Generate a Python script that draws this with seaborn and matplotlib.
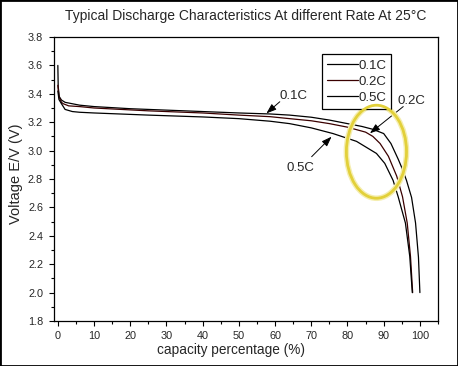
import numpy as np
import pandas as pd
import matplotlib
matplotlib.use("Agg")
import matplotlib.pyplot as plt
import seaborn as sns
from matplotlib.patches import Ellipse, Rectangle
from matplotlib.ticker import MultipleLocator

# ---- data ----
cap_01 = [0, 0.1, 0.4, 1, 2, 4, 6, 10, 20, 30, 40, 50, 58.6, 64, 70, 75, 80, 84, 87, 90, 92, 94, 95, 96.3, 97.7, 98.8, 99.6, 100]
v_01 = [3.60, 3.45, 3.38, 3.356, 3.34, 3.33, 3.32, 3.31, 3.295, 3.285, 3.275, 3.265, 3.258, 3.25, 3.235, 3.215, 3.19, 3.17, 3.15, 3.12, 3.05, 2.94, 2.88, 2.79, 2.67, 2.49, 2.25, 2.0]

cap_02 = [0, 0.3, 1, 1.5, 3, 6, 10, 25, 40, 50, 58.6, 64, 70, 75, 80, 85, 87, 89, 91.3, 93.6, 95.2, 96.5, 97.4, 98]
v_02 = [3.46, 3.38, 3.34, 3.33, 3.315, 3.31, 3.30, 3.28, 3.265, 3.25, 3.239, 3.225, 3.21, 3.19, 3.165, 3.13, 3.10, 3.05, 2.96, 2.82, 2.675, 2.49, 2.255, 2.0]

cap_05 = [0, 0.3, 1, 2, 4, 6, 10, 25, 40, 50, 58.6, 64, 70, 76, 82.5, 88, 90.3, 92.6, 94, 96.0, 97.2, 97.9]
v_05 = [3.42, 3.36, 3.33, 3.29, 3.275, 3.27, 3.265, 3.25, 3.237, 3.225, 3.207, 3.19, 3.16, 3.12, 3.065, 2.98, 2.91, 2.79, 2.675, 2.49, 2.255, 2.0]

series_names = ["0.1C", "0.2C", "0.5C"]
series_colors = ["#000000", "#3a0000", "#000000"]
x_ticks = list(range(0, 101, 10))
y_ticks = [1.8, 2.0, 2.2, 2.4, 2.6, 2.8, 3.0, 3.2, 3.4, 3.6, 3.8]

df = pd.concat([
    pd.DataFrame({"cap": cap_01, "v": v_01, "rate": "0.1C"}),
    pd.DataFrame({"cap": cap_02, "v": v_02, "rate": "0.2C"}),
    pd.DataFrame({"cap": cap_05, "v": v_05, "rate": "0.5C"}),
], ignore_index=True)

sns.set_theme(style="white")
plt.rcParams["font.family"] = ["Liberation Sans", "DejaVu Sans"]

fig = plt.figure(figsize=(4.58, 3.66), dpi=100)
ax = fig.add_axes([53.5 / 458, 1 - 321 / 366, (438 - 53.5) / 458, (321 - 37) / 366])

sns.lineplot(data=df, x="cap", y="v", hue="rate", hue_order=series_names,
             palette=dict(zip(series_names, series_colors)), sort=False,
             estimator=None, linewidth=0.9, ax=ax)

ax.set_xlim(-1.2, 105)
ax.set_ylim(1.8, 3.8)
ax.set_xticks(x_ticks)
ax.set_yticks(y_ticks)
ax.set_yticklabels([f"{t:.1f}" for t in y_ticks])
ax.xaxis.set_minor_locator(MultipleLocator(5))
ax.yaxis.set_minor_locator(MultipleLocator(0.1))
ax.tick_params(which="major", direction="out", length=3.5, width=0.8, color="black",
               labelsize=7.8, pad=4, bottom=True, left=True, top=False, right=False)
ax.tick_params(which="minor", direction="out", length=2.5, width=0.8, color="black",
               bottom=True, left=True, top=False, right=False)
for s in ax.spines.values():
    s.set_color("black")
    s.set_linewidth(0.9)

ax.set_xlabel("capacity percentage (%)", fontsize=9.8)
ax.xaxis.set_label_coords((231 - 53.5) / 384.5, -(350 - 321) / 284, transform=ax.transAxes)
ax.set_ylabel("Voltage E/V (V)", fontsize=10.5)
ax.yaxis.set_label_coords(-(53.5 - 16) / 384.5, 1 - (174 - 37) / 284, transform=ax.transAxes)
ax.xaxis.label.set_va("center")
ax.yaxis.label.set_va("center")
ax.set_title("Typical Discharge Characteristics At different Rate At 25°C", fontsize=10, pad=12)

leg = ax.legend(loc="upper left", bbox_to_anchor=(0.698, 0.940), fontsize=9.5,
                frameon=True, fancybox=False, edgecolor="black", framealpha=1,
                handlelength=2.3, handletextpad=0.05, borderpad=0.4, labelspacing=0.3,
                borderaxespad=0)
leg.get_frame().set_linewidth(0.9)
for line in leg.get_lines():
    line.set_linewidth(0.9)

arrow = dict(arrowstyle="-|>,head_length=0.5,head_width=0.18", color="black", lw=0.7,
             shrinkA=0, shrinkB=0)
ax.text(65.2, 3.385, "0.1C", fontsize=9.5, ha="center", va="center")
ax.annotate("", xy=(57.6, 3.262), xytext=(61.3, 3.344), arrowprops=arrow)
ax.text(97.8, 3.35, "0.2C", fontsize=9.5, ha="center", va="center")
ax.annotate("", xy=(86.2, 3.122), xytext=(95.4, 3.31), arrowprops=arrow)
ax.text(67.1, 2.877, "0.5C", fontsize=9.5, ha="center", va="center")
ax.annotate("", xy=(75.6, 3.098), xytext=(70.1, 2.957), arrowprops=arrow)

ell_glow = Ellipse((88.0, 2.992), 16.6, 0.655, fill=False, edgecolor="#f5eeb0", lw=4.0, zorder=5)
ell = Ellipse((88.0, 2.992), 16.6, 0.655, fill=False, edgecolor="#e2d03a", lw=2.0, zorder=6)
ax.add_patch(ell_glow)
ax.add_patch(ell)

fig.patches.append(Rectangle((0, 0), 1, 1, transform=fig.transFigure, fill=False,
                             edgecolor="black", lw=2.0))

fig.savefig("out.png", dpi=100, facecolor="white")
